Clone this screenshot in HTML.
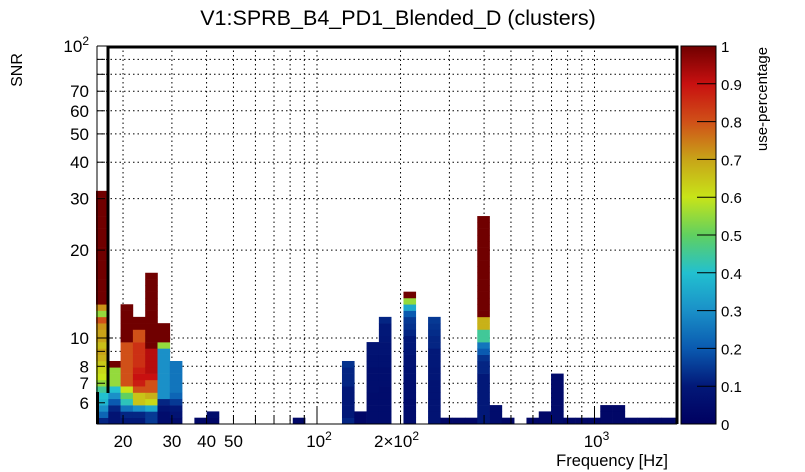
<!DOCTYPE html>
<html><head><meta charset="utf-8"><style>
body{margin:0;background:#fff;}
svg{display:block;font-family:"Liberation Sans",sans-serif;}
</style></head><body>
<svg id="chart" width="805" height="472" viewBox="0 0 805 472" xmlns="http://www.w3.org/2000/svg">
<defs>
<linearGradient id="cmap" x1="0" y1="1" x2="0" y2="0">
<stop offset="0" stop-color="#000060"/><stop offset="0.1" stop-color="#021878"/>
<stop offset="0.2" stop-color="#0a5ab0"/><stop offset="0.3" stop-color="#1a90c8"/>
<stop offset="0.4" stop-color="#22c0d0"/><stop offset="0.5" stop-color="#60d060"/>
<stop offset="0.6" stop-color="#c8e418"/><stop offset="0.7" stop-color="#c8a418"/>
<stop offset="0.8" stop-color="#d05018"/><stop offset="0.9" stop-color="#c81010"/>
<stop offset="1" stop-color="#700000"/></linearGradient>
</defs>
<text x="398" y="25" font-size="21.5" text-anchor="middle">V1:SPRB_B4_PD1_Blended_D (clusters)</text>
<g id="grid"></g>
<g id="cells"></g>
<g id="axes"></g>
<rect x="681" y="46" width="35" height="378" fill="url(#cmap)"/>
<g id="cbar"></g>
<text x="668" y="466" font-size="16.5" text-anchor="end">Frequency [Hz]</text>
<text transform="translate(22,70) rotate(-90)" font-size="16" text-anchor="middle">SNR</text>
<text transform="translate(767,99) rotate(-90)" font-size="15" text-anchor="middle">use-percentage</text>
</svg>
<script>
const xLogMin = 1.2036, xBinStep = 0.04432;
const yLogMin = 0.7055, yBinStep = 0.02158;
const columns = [
[0.12,0.22,0.3,0.38,0.4,0.45,0.55,0.6,0.62,0.64,0.68,0.7,0.66,0.7,0.7,0.72,0.8,0.55,0.72,1,1,1,1,1,1,1,1,1,1,1,1,1,1,1,1,1,1],
[0.08,0.08,0.12,0.2,0.3,0.4,0.55,0.55,0.55,1],
[0.1,0.12,0.25,0.42,0.5,0.6,0.8,0.8,0.8,0.8,0.8,0.8,0.8,1,1,1,1,1,1],
[0.1,0.12,0.3,0.65,0.65,0.8,0.88,0.9,0.88,0.85,0.85,0.85,0.85,0.8,0.8,1,1],
[0.15,0.15,0.35,0.62,0.68,0.8,0.8,0.9,0.92,0.92,0.92,0.92,1,1,1,1,1,1,1,1,1,1,1,1],
[0.05,0.05,0.08,0.12,0.3,0.3,0.3,0.3,0.3,0.3,0.3,0.3,0.55,1,1,1],
[0.05,0.08,0.1,0.15,0.22,0.25,0.25,0.25,0.25,0.25],
[],[0.03],[0.03,0.05],[],[],[],[],[],[],[0.03],[],[],[],
[0.12,0.1,0.1,0.1,0.1,0.1,0.12,0.12,0.12,0.14],
[0.03,0.03],
[0.05,0.05,0.05,0.05,0.05,0.06,0.06,0.06,0.06,0.07,0.07,0.08,0.08],
[0.05,0.05,0.05,0.05,0.05,0.05,0.06,0.06,0.06,0.07,0.07,0.08,0.08,0.09,0.1,0.1,0.12],
[],
[0.05,0.05,0.05,0.05,0.06,0.06,0.06,0.07,0.07,0.08,0.08,0.09,0.1,0.1,0.12,0.14,0.15,0.2,0.35,0.55,1],
[],
[0.08,0.08,0.08,0.08,0.08,0.08,0.08,0.09,0.09,0.1,0.1,0.1,0.12,0.12,0.13,0.14,0.15],
[0.03],[0.03],[0.03],
[0.1,0.1,0.1,0.1,0.1,0.1,0.1,0.1,0.12,0.12,0.14,0.2,0.25,0.45,0.45,0.68,0.68,1,1,1,1,1,1,1,1,1,1,1,1,1,1,1,1],
[0.05,0.05,0.05],[0.03],[],[0.03],[0.03,0.03],
[0.04,0.04,0.04,0.04,0.04,0.04,0.04,0.04],
[0.03],[0.03],[0.03],[0.03,0.03,0.03],[0.03,0.03,0.03],
[0.03],[0.03],[0.03],[0.03],[0.03]
];
const yTickValues = [6,7,8,10,20,30,40,50,60,70];
const yTickLabels = ["6","7","8","10","20","30","40","50","60","70"];
const xTickValues = [20,30,40,50,200];
const xTickLabels = ["20","30","40","50","2\u00d710"];
const cbarTicks = [0,0.1,0.2,0.3,0.4,0.5,0.6,0.7,0.8,0.9,1];
const cbarLabels = ["0","0.1","0.2","0.3","0.4","0.5","0.6","0.7","0.8","0.9","1"];

const X0=97,X1=677,Y0=424,Y1=46;
const pxPerDecX=277.5, pxPerDecY=292;
function xs(lg){return 317+(lg-2)*pxPerDecX;}
function ys(lg){return 338-(lg-1)*pxPerDecY;}
const stops=[[0,[0,0,96]],[0.1,[2,24,120]],[0.2,[10,90,176]],[0.3,[26,144,200]],[0.4,[34,192,208]],[0.5,[96,208,96]],[0.6,[200,228,24]],[0.7,[200,164,24]],[0.8,[208,80,24]],[0.9,[200,16,16]],[1,[112,0,0]]];
function cmap(v){for(let i=1;i<stops.length;i++){if(v<=stops[i][0]){const a=stops[i-1],b=stops[i];const t=(v-a[0])/(b[0]-a[0]);const c=a[1].map((q,k)=>Math.round(q+(b[1][k]-q)*t));return `rgb(${c})`;}}return 'rgb(112,0,0)';}
const NS='http://www.w3.org/2000/svg';
function mk(tag,attrs,parent){const e=document.createElementNS(NS,tag);for(const k in attrs)e.setAttribute(k,attrs[k]);parent.appendChild(e);return e;}
const grid=document.getElementById('grid'),cells=document.getElementById('cells'),axes=document.getElementById('axes'),cbar=document.getElementById('cbar');
const dash={stroke:'#000','stroke-width':1,'stroke-dasharray':'1.5,3'};
for(let d=1;d<=3;d++)for(let m=1;m<=9;m++){const lg=d+Math.log10(m);const x=xs(lg);if(x<=X0+1||x>=X1-1)continue;
 const l=mk('line',Object.assign({x1:x,x2:x,y1:Y1,y2:Y0},dash),grid);
 
 }
for(let d=0;d<=1;d++)for(let m=1;m<=9;m++){const lg=d+Math.log10(m);const y=ys(lg);if(y>=Y0-1||y<=Y1+1)continue;
 const l=mk('line',Object.assign({x1:X0,x2:X1,y1:y,y2:y},dash),grid);
 
 }
columns.forEach((col,i)=>{
 let xa=xs(xLogMin+i*xBinStep), xb=xs(xLogMin+(i+1)*xBinStep);
 xa=Math.max(xa,X0-1); xb=Math.min(xb,X1);
 col.forEach((v,j)=>{
  const yb=ys(yLogMin+j*yBinStep), ya=ys(yLogMin+(j+1)*yBinStep);
  const r=mk('rect',{x:xa,y:ya,width:xb-xa+0.3,height:yb-ya+0.3,fill:cmap(v)},cells);
  
  
 });
});
mk('line',{x1:X0,x2:X0,y1:Y1,y2:Y0,stroke:'#000','stroke-width':1},axes);
mk('line',{x1:X0,x2:X1,y1:Y0,y2:Y0,stroke:'#000','stroke-width':1},axes);
mk('path',{d:`M108,393 L108,47 L${X1},47 L${X1},${Y0}`,fill:'none',stroke:'#000','stroke-width':3},axes);
mk('line',{x1:97.5,x2:97.5,y1:392,y2:Y0,stroke:'#000','stroke-width':3},axes);
for(let d=0;d<=1;d++)for(let m=1;m<=9;m++){const lg=d+Math.log10(m);const y=ys(lg);if(y>Y0||y<Y1)continue;
 const len=(m===1)?16:8;
 mk('line',{x1:X0,x2:X0+len,y1:y,y2:y,stroke:'#000'},axes);}
mk('line',{x1:X0,x2:X0+16,y1:Y1,y2:Y1,stroke:'#000'},axes);
yTickValues.forEach((v,i)=>{const t=mk('text',{x:89,y:ys(Math.log10(v))+6,'font-size':17,'text-anchor':'end'},axes);t.textContent=yTickLabels[i];
 
 });
const yt=mk('text',{x:89,y:ys(2)+6,'font-size':17,'text-anchor':'end'},axes);


yt.innerHTML='10<tspan dy="-7" font-size="12">2</tspan>';
for(let d=1;d<=3;d++)for(let m=1;m<=9;m++){const lg=d+Math.log10(m);const x=xs(lg);if(x<X0||x>X1)continue;
 const len=(m===1)?18:9;
 mk('line',{x1:x,x2:x,y1:Y0,y2:Y0-len,stroke:'#000'},axes);}
xTickValues.forEach((v,i)=>{const x=xs(Math.log10(v));
 const t=mk('text',{x:x,y:447,'font-size':17,'text-anchor':'middle'},axes);
 
 
 if(v===200){t.setAttribute('x',x-4);t.innerHTML=xTickLabels[i]+'<tspan dy="-7" font-size="12">2</tspan>';}
 else t.textContent=xTickLabels[i];});
[[2,'10','2'],[3,'10','3']].forEach(p=>{const t=mk('text',{x:xs(p[0])+2,y:447,'font-size':17,'text-anchor':'middle'},axes);
 
 
 t.innerHTML=p[1]+'<tspan dy="-7" font-size="12">'+p[2]+'</tspan>';});
mk('rect',{x:681,y:46,width:35,height:378,fill:'none',stroke:'#000','stroke-width':1},cbar);
cbarTicks.forEach((v,i)=>{const y=424-v*378;
 mk('line',{x1:697,x2:716,y1:y,y2:y,stroke:'#000'},cbar);
 const t=mk('text',{x:721,y:y+6,'font-size':15},cbar);t.textContent=cbarLabels[i];
 
 });
</script>
</body></html>
